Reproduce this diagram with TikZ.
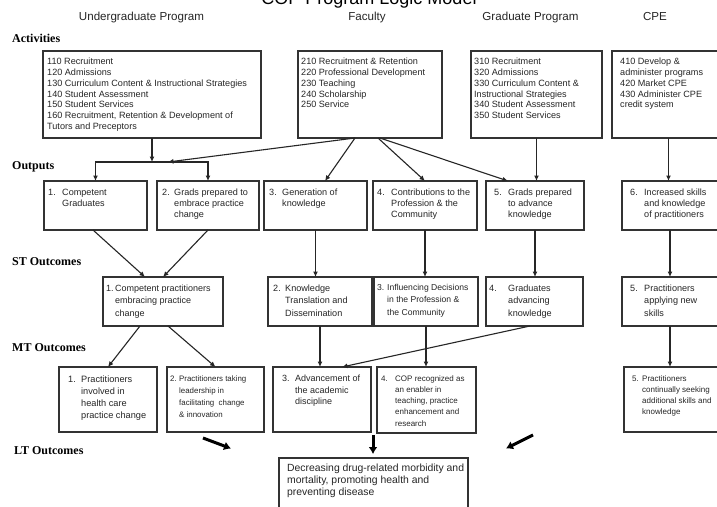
\documentclass[tikz,border=0pt]{standalone}
\usepackage{fontspec}
\setmainfont{Liberation Sans}
\newfontfamily\serifb{Liberation Serif}
\usetikzlibrary{arrows.meta}
\newcommand\mytext[3]{{\fontsize{#1}{#2}\selectfont\begin{tabular}[t]{@{}l@{}}#3\end{tabular}}}
\newcommand\numb[2]{\makebox[#1][l]{#2}}
\newcommand\indt[1]{\hspace*{#1}}
\begin{document}
\begin{tikzpicture}[x=1pt,y=-1pt,
  box/.style={draw=black!80, line width=1.1pt, rectangle, inner sep=0pt, outer sep=0pt},
  txt/.style={anchor=base west, inner sep=0pt, text=black!85},
  arr/.style={draw=black!85, line width=1.1pt, -{Latex[length=5.5pt,width=5pt]}},
  fat/.style={draw=black, line width=3pt, -{Latex[length=7pt,width=9pt]}},
  rowlab/.style={anchor=base west, inner sep=0pt, font=\serifb\bfseries\fontsize{12}{14}\selectfont},
  colhead/.style={anchor=base, inner sep=0pt, text=black!85, font=\fontsize{11.6}{14}\selectfont}]
\clip (0,0) rectangle (717,506);
\fill[white] (0,0) rectangle (717,506);

% title and headers
\node[anchor=base, inner sep=0pt, font=\fontsize{18}{20}\selectfont] (title) at (369,5) {COP Program Logic Model};
\node[colhead] (hUG) at (141.5,20) {Undergraduate Program};
\node[colhead] (hFac) at (367,20) {Faculty};
\node[colhead] (hGrad) at (530.5,20) {Graduate Program};
\node[colhead] (hCPE) at (655,20) {CPE};

% row labels
\node[rowlab] (rAct) at (12,42.7) {Activities};
\node[rowlab] (rOut) at (12,169) {Outputs};
\node[rowlab] (rST) at (12,265) {ST Outcomes};
\node[rowlab] (rMT) at (12,351) {MT Outcomes};
\node[rowlab] (rLT) at (14,454) {LT Outcomes};

% activity boxes
\node[box, minimum width=218pt, minimum height=87pt] (A1) at (152,94.5) {};
\node[box, minimum width=144pt, minimum height=87pt] (A2) at (370,94.5) {};
\node[box, minimum width=131pt, minimum height=87pt] (A3) at (536.5,94.5) {};
\node[box, minimum width=113pt, minimum height=87pt] (A4) at (668.5,94.5) {};

\node[txt] (tA1) at (47,64.5) {\mytext{9.1}{10.85}{110 Recruitment\\120 Admissions\\130 Curriculum Content \& Instructional Strategies\\140 Student Assessment\\150 Student Services\\160 Recruitment, Retention \& Development of\\Tutors and Preceptors}};
\node[txt] (tA2) at (301,64.5) {\mytext{9.1}{10.85}{210 Recruitment \& Retention\\220 Professional Development\\230 Teaching\\240 Scholarship\\250 Service}};
\node[txt] (tA3) at (474,64.5) {\mytext{9.1}{10.85}{310 Recruitment\\320 Admissions\\330 Curriculum Content \&\\Instructional Strategies\\340 Student Assessment\\350 Student Services}};
\node[txt] (tA4) at (620,64.5) {\mytext{9.1}{10.85}{410 Develop \&\\administer programs\\420 Market CPE\\430 Administer CPE\\credit system}};

% output boxes
\node[box, minimum width=103pt, minimum height=49pt] (O1) at (95.5,205.5) {};
\node[box, minimum width=102pt, minimum height=49pt] (O2) at (208,205.5) {};
\node[box, minimum width=103pt, minimum height=49pt] (O3) at (315.5,205.5) {};
\node[box, minimum width=104pt, minimum height=49pt] (O4) at (425,205.5) {};
\node[box, minimum width=98pt, minimum height=49pt] (O5) at (535,205.5) {};
\node[box, minimum width=96pt, minimum height=49pt] (O6) at (670,205.5) {};

\node[txt] (tO1) at (48,195.5) {\mytext{9.1}{11}{\numb{14pt}{1.}Competent\\\indt{14pt}Graduates}};
\node[txt] (tO2) at (162,195.5) {\mytext{9.1}{11}{\numb{12pt}{2.}Grads prepared to\\\indt{12pt}embrace practice\\\indt{12pt}change}};
\node[txt] (tO3) at (269,195.5) {\mytext{9.1}{11}{\numb{13pt}{3.}Generation of\\\indt{13pt}knowledge}};
\node[txt] (tO4) at (377,195.5) {\mytext{9.1}{11}{\numb{14pt}{4.}Contributions to the\\\indt{14pt}Profession \& the\\\indt{14pt}Community}};
\node[txt] (tO5) at (494,195.5) {\mytext{9.1}{11}{\numb{14pt}{5.}Grads prepared\\\indt{14pt}to advance\\\indt{14pt}knowledge}};
\node[txt] (tO6) at (630,195.5) {\mytext{9.1}{11}{\numb{14pt}{6.}Increased skills\\\indt{14pt}and knowledge\\\indt{14pt}of practitioners}};

% ST boxes
\node[box, minimum width=120pt, minimum height=49pt] (ST1) at (163,301.5) {};
\node[box, minimum width=104pt, minimum height=49pt] (ST2) at (320,301.5) {};
\node[box, minimum width=104pt, minimum height=49pt] (ST3) at (426,301.5) {};
\node[box, minimum width=97pt, minimum height=49pt] (ST4) at (534.5,301.5) {};
\node[box, minimum width=96pt, minimum height=49pt] (ST5) at (670,301.5) {};

\node[txt] (tST1) at (106,291) {\mytext{9}{12.6}{\numb{9pt}{1.}Competent practitioners\\\indt{9pt}embracing practice\\\indt{9pt}change}};
\node[txt] (tST2) at (273,291) {\mytext{9.1}{12.6}{\numb{12pt}{2.}Knowledge\\\indt{12pt}Translation and\\\indt{12pt}Dissemination}};
\node[txt] (tST3) at (377,290.7) {\mytext{8.6}{12.2}{\numb{10pt}{3.}Influencing Decisions\\\indt{10pt}in the Profession \&\\\indt{10pt}the Community}};
\node[txt] (tST4) at (489,291) {\mytext{9.1}{12.6}{\numb{19pt}{4.}Graduates\\\indt{19pt}advancing\\\indt{19pt}knowledge}};
\node[txt] (tST5) at (630,291) {\mytext{9.1}{12.6}{\numb{14pt}{5.}Practitioners\\\indt{14pt}applying new\\\indt{14pt}skills}};

% MT boxes
\node[box, minimum width=98pt, minimum height=65pt] (MT1) at (108,399.5) {};
\node[box, minimum width=97pt, minimum height=65pt] (MT2) at (215.5,399.5) {};
\node[box, minimum width=98pt, minimum height=65pt] (MT3) at (322,399.5) {};
\node[box, minimum width=99pt, minimum height=66pt] (MT4) at (426.5,400) {};
\node[box, minimum width=96pt, minimum height=65pt] (MT5) at (672,399.5) {};

\node[txt] (tMT1) at (68,382) {\mytext{9.2}{12.2}{\numb{13pt}{1.}Practitioners\\\indt{13pt}involved in\\\indt{13pt}health care\\\indt{13pt}practice change}};
\node[txt] (tMT2) at (170,381) {\mytext{7.9}{12}{\numb{9pt}{2.}Practitioners taking\\\indt{9pt}leadership in\\\indt{9pt}facilitating\ \ change\\\indt{9pt}\& innovation}};
\node[txt] (tMT3) at (282,381.5) {\mytext{9}{11.7}{\numb{13pt}{3.}Advancement of\\\indt{13pt}the academic\\\indt{13pt}discipline}};
\node[txt] (tMT4) at (381,381) {\mytext{8}{11.25}{\numb{14pt}{4.}COP recognized as\\\indt{14pt}an enabler in\\\indt{14pt}teaching, practice\\\indt{14pt}enhancement and\\\indt{14pt}research}};
\node[txt] (tMT5) at (632,381) {\mytext{8}{11.3}{\numb{10pt}{5.}Practitioners\\\indt{10pt}continually seeking\\\indt{10pt}additional skills and\\\indt{10pt}knowledge}};

% LT box
\node[box, minimum width=189pt, minimum height=67pt] (LT) at (373.5,491.5) {};
\node[txt] (tLT) at (287,471.5) {\mytext{10.4}{12}{Decreasing drug-related morbidity and\\mortality, promoting health and\\preventing disease}};

% connectors: activities -> outputs
\coordinate (bus) at (152,162);
\coordinate (busF) at (168,162);
\draw[arr] (A1.south) -- (bus);
\draw[arr] (bus) -| (O1.north);
\draw[arr] (bus) -| (O2.north);
\draw[arr] ([xshift=-15pt]A2.south) -- (busF);
\draw[arr] ([xshift=-15pt]A2.south) -- ([xshift=9.5pt]O3.north);
\draw[arr] ([xshift=8pt]A2.south) -- (O4.north);
\draw[arr] ([xshift=10pt]A2.south) -- ([xshift=-27pt]O5.north);
\draw[arr] (A3.south) -- (A3.south |- O5.north);
\draw[arr] (A4.south) -- (A4.south |- O6.north);

% outputs -> ST
\draw[arr] ([xshift=-2.5pt]O1.south) -- ([xshift=-18pt]ST1.north);
\draw[arr] (O2.south) -- (ST1.north);
\draw[arr] (O3.south) -- (O3.south |- ST2.north);
\draw[arr] (O4.south) -- (O4.south |- ST3.north);
\draw[arr] (O5.south) -- (O5.south |- ST4.north);
\draw[arr] (O6.south) -- (ST5.north);

% ST -> MT
\draw[arr] ([xshift=-23pt]ST1.south) -- (MT1.north);
\draw[arr] ([xshift=5pt]ST1.south) -- (MT2.north);
\draw[arr] (ST2.south) -- (ST2.south |- MT3.north);
\draw[arr] (ST3.south) -- (ST3.south |- MT4.north);
\draw[arr] ([xshift=-4.5pt]ST4.south) -- ([xshift=20pt]MT3.north);
\draw[arr] (ST5.south) -- (ST5.south |- MT5.north);

% thick arrows toward LT
\coordinate (f1s) at (203,438); \coordinate (f1e) at (231,448.5);
\coordinate (f2s) at (373,435); \coordinate (f2e) at (373,454);
\coordinate (f3s) at (533,435); \coordinate (f3e) at (506,448.5);
\draw[fat] (f1s) -- (f1e);
\draw[fat] (f2s) -- (f2e);
\draw[fat] (f3s) -- (f3e);
\end{tikzpicture}
\end{document}
